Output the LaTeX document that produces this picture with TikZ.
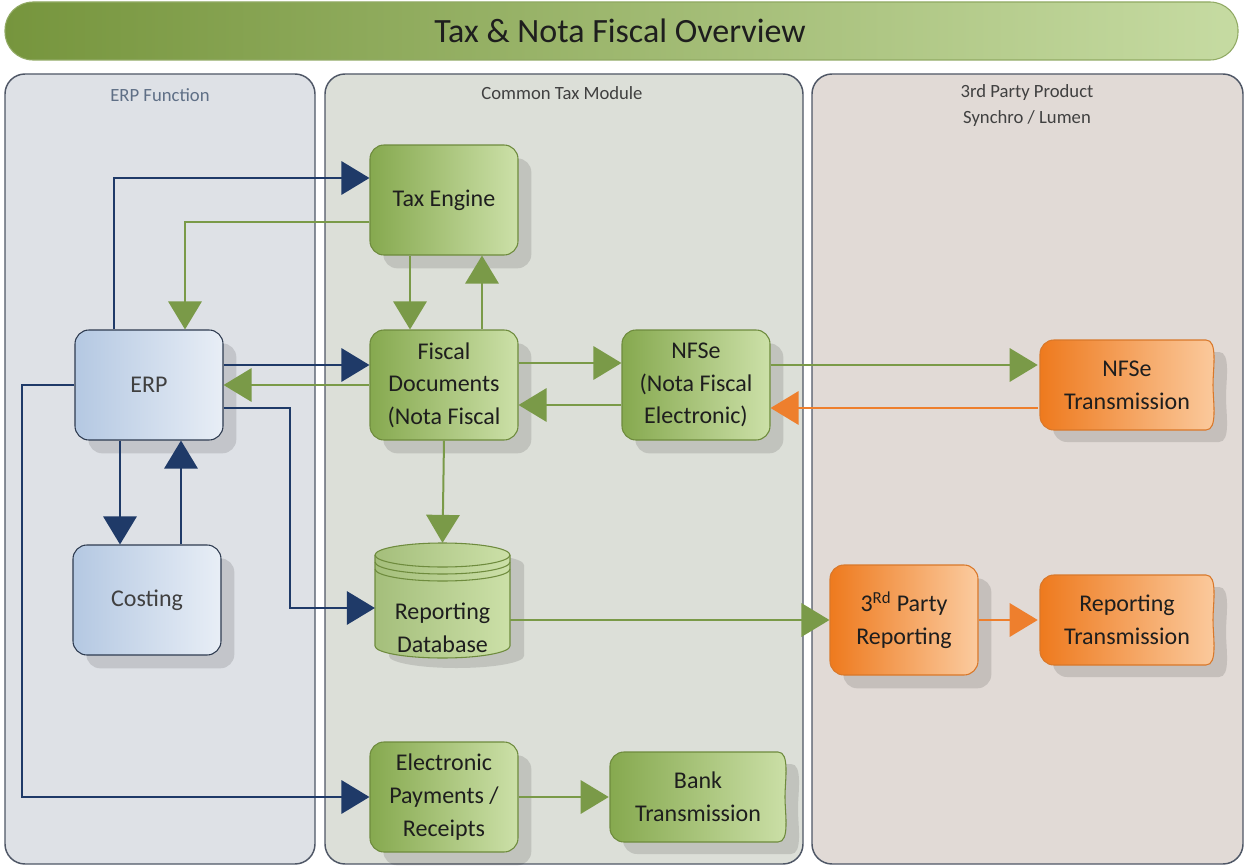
\documentclass[tikz,border=0pt]{standalone}
\usepackage{fontspec}
\setmainfont{Carlito}
\usetikzlibrary{arrows.meta,shadows,calc}
\definecolor{navy}{HTML}{1F3A68}
\definecolor{gline}{HTML}{7A9A48}
\definecolor{oline}{HTML}{EE7F2D}
\definecolor{gdark}{HTML}{86A94F}
\definecolor{glight}{HTML}{CCE0A8}
\definecolor{gborder}{HTML}{6E8B3D}
\definecolor{bdark}{HTML}{B4C8E2}
\definecolor{blight}{HTML}{E8EEF6}
\definecolor{bborder}{HTML}{2E3B50}
\definecolor{odark}{HTML}{EE7A1E}
\definecolor{olight}{HTML}{FBCB9F}
\definecolor{oborder}{HTML}{D9782A}
\definecolor{lane1}{HTML}{DEE1E6}
\definecolor{lane2}{HTML}{DCDFD8}
\definecolor{lane3}{HTML}{E1DAD6}
\definecolor{laneline}{HTML}{4F5766}
\definecolor{txt}{HTML}{1E1E1E}
\definecolor{hdrblue}{HTML}{5F6F86}
\definecolor{tdark}{HTML}{76953D}
\definecolor{tlight}{HTML}{C6DBA2}
\tikzset{
  box/.style={rounded corners=10.5pt, minimum width=111pt, minimum height=82.5pt,
    align=center, font=\fontsize{18}{24.5}\selectfont, text=txt, line width=0.8pt,
    general shadow={fill=black, opacity=0.12, shadow xshift=10pt, shadow yshift=-10pt}},
  gbox/.style={box, draw=gborder, left color=gdark, right color=glight},
  bbox/.style={box, draw=bborder, left color=bdark, right color=blight, text=black!75},
  obox/.style={box, draw=oborder, left color=odark, right color=olight},
  wtext/.style={minimum width=133.5pt, minimum height=67.5pt, align=center,
    font=\fontsize{18}{24.5}\selectfont, text=txt, inner sep=0pt},
  conn/.style={line width=1.5pt},
  nav/.style={conn, draw=navy, -{Triangle[length=21pt,width=25pt,fill=navy]}},
  grn/.style={conn, draw=gline, -{Triangle[length=21pt,width=25pt,fill=gline]}},
  org/.style={conn, draw=oline, -{Triangle[length=21pt,width=25pt,fill=oline]}},
  lane/.style={draw=laneline, line width=1.1pt, rounded corners=15pt},
  hdr/.style={font=\fontsize{14}{19.5}\selectfont, align=center}
}
\newcommand\wavypath[4]{(#1+40,#4) [rounded corners=10.5pt] -- (#1,#4) -- (#1,#2) -- (#1+40,#2) [sharp corners] -- (#3-12,#2) .. controls (#3,#2) and (#3-5,#2+28) .. (#3-5,{(#2+#4)/2}) .. controls (#3-5,#4-28) and (#3,#4) .. (#3-12,#4) -- cycle}
\newcommand\wavyshape[5]{%
  \fill[black,opacity=0.12,shift={(13,12)}] \wavypath{#2}{#3}{#4}{#5};
  \path[#1, line width=0.8pt] \wavypath{#2}{#3}{#4}{#5};}
\newcommand\cylfront[1]{(375,#1) .. controls (375,#1+6.6) and (405.2,#1+12) .. (442.5,#1+12) .. controls (479.8,#1+12) and (510,#1+6.6) .. (510,#1)}
\newcommand\cylbody{(375,555) -- (375,646) .. controls (375,652.6) and (405.2,658) .. (442.5,658) .. controls (479.8,658) and (510,652.6) .. (510,646) -- (510,555) .. controls (510,548.4) and (479.8,543) .. (442.5,543) .. controls (405.2,543) and (375,548.4) .. (375,555) -- cycle}
\begin{document}
\begin{tikzpicture}[x=0.75pt,y=-0.75pt]
\useasboundingbox (0,0) rectangle (1246,867);
\fill[white] (0,0) rectangle (1246,867);
% title bar
\path[draw=tdark!80, line width=0.8pt, left color=tdark, right color=tlight, rounded corners=21pt]
  (5,2) rectangle (1238,60);
\node[font=\fontsize{25.5}{30}\selectfont, text=txt] (title) at (620,31) {Tax \& Nota Fiscal Overview};
% lanes
\path[lane, fill=lane1] (5,74) rectangle (315,864);
\path[lane, fill=lane2] (325,74) rectangle (803,864);
\path[lane, fill=lane3] (812,74) rectangle (1243,864);
\node[hdr, text=hdrblue] (h1) at (160,95) {ERP Function};
\node[hdr, text=black!75] (h2) at (562,93) {Common Tax Module};
\node[hdr, text=black!75] (h3) at (1027,106) {3rd Party Product\\Synchro / Lumen};
% boxes
\node[gbox] (tax) at (444,200) {Tax Engine};
\node[gbox] (fd) at (444,385) {Fiscal\\Documents\\(Nota Fiscal};
\node[gbox] (nfse) at (696,385) {NFSe\\(Nota Fiscal\\Electronic)};
\node[gbox] (ep) at (444,797) {Electronic\\Payments /\\Receipts};
\node[bbox] (erp) at (149,385) {ERP};
\node[bbox] (cost) at (147,600) {Costing};
\node[obox] (tpr) at (904,620) {3\textsuperscript{Rd} Party\\Reporting};
% wavy (transmission) shapes
\wavyshape{draw=oborder, left color=odark, right color=olight}{1040}{340}{1218}{430}
\node[wtext] (nfset) at (1127,385) {NFSe\\Transmission};
\wavyshape{draw=oborder, left color=odark, right color=olight}{1040}{575}{1218}{665}
\node[wtext] (rt) at (1127,620) {Reporting\\Transmission};
\wavyshape{draw=gborder, left color=gdark, right color=glight}{610}{752}{790}{842}
\node[wtext] (bank) at (698,797) {Bank\\Transmission};
% database cylinder
\fill[black,opacity=0.12,shift={(14,10)}] \cylbody;
\path[draw=gborder, line width=0.8pt, left color=gdark!75, right color=glight] \cylbody;
\draw[gborder, line width=0.8pt] \cylfront{555};
\draw[gborder, line width=0.8pt] \cylfront{562};
\draw[gborder, line width=0.8pt] \cylfront{569};
\node[minimum width=101pt, minimum height=86pt, inner sep=0pt] (db) at (442.5,600.5) {};
\node[wtext, minimum width=0pt, minimum height=0pt] (dbtext) at (442.5,628) {Reporting\\Database};
% connectors
\draw[nav] (erp.north -| 114,0) |- (tax.west |- 0,178);
\draw[nav] (erp.east |- 0,365) -- (fd.west |- 0,365);
\draw[nav] (erp.east |- 0,408) -| (290,608) -- (db.west |- 0,608);
\draw[nav] (erp.west) -| (22,797) -- (ep.west);
\draw[nav] (erp.south -| 120,0) -- (cost.north -| 120,0);
\draw[nav] (cost.north -| 181,0) -- (erp.south -| 181,0);
\draw[grn] (tax.west |- 0,222) -| (erp.north -| 185,0);
\draw[grn] (tax.south -| 410,0) -- (fd.north -| 410,0);
\draw[grn] (fd.north -| 482,0) -- (tax.south -| 482,0);
\draw[grn] (fd.west) -- (erp.east);
\draw[grn] (fd.east |- 0,363) -- (nfse.west |- 0,363);
\draw[grn] (nfse.west |- 0,405) -- (fd.east |- 0,405);
\draw[grn] (fd.south) -- (db.north);
\draw[grn] (nfse.east |- 0,365) -- (nfset.west |- 0,365);
\draw[org] (nfset.west |- 0,408) -- (nfse.east |- 0,408);
\draw[grn] (db.east |- 0,620) -- (tpr.west);
\draw[org] (tpr.east) -- (rt.west);
\draw[grn] (ep.east) -- (bank.west);
\end{tikzpicture}
\end{document}
